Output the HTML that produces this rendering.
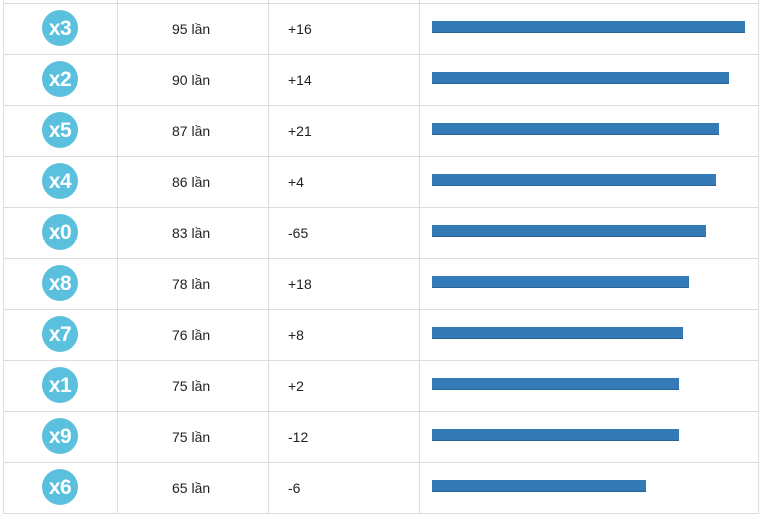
<!DOCTYPE html><html><head><meta charset="utf-8"><style>
body{margin:0;width:762px;height:519px;background:#fff;position:relative;overflow:hidden;font-family:"Liberation Sans",Arial,sans-serif;color:#222}
.h{position:absolute;left:3px;width:756px;height:1px;background:#ddd}
.v{position:absolute;top:0;width:1px;height:514px;background:#ddd}
.c{position:absolute;left:42px;width:36px;height:36px;border-radius:50%;background:#5bc0de;color:#fff;font-weight:bold;font-size:21px;line-height:38px;text-align:center;letter-spacing:-0.5px}
.t{position:absolute;font-size:14px;line-height:16px}
.b{position:absolute;left:432px;height:12px;background:#337ab7;border-bottom:1px solid #2a6496;box-sizing:border-box}
</style></head><body>
<div class="v" style="left:3px"></div><div class="v" style="left:117px"></div><div class="v" style="left:268px"></div><div class="v" style="left:419px"></div><div class="v" style="left:758px"></div>
<div id="rows"></div>
<script>
var d=[["x3","95",313,"+16"],["x2","90",297,"+14"],["x5","87",287,"+21"],["x4","86",284,"+4"],["x0","83",274,"-65"],["x8","78",257,"+18"],["x7","76",251,"+8"],["x1","75",247,"+2"],["x9","75",247,"-12"],["x6","65",214,"-6"]];
var h='<div class="h" style="top:3px"></div>';
d.forEach(function(r,i){var y=3+51*i;
h+='<div class="h" style="top:'+(y+51)+'px"></div>';
h+='<div class="c" style="top:'+(y+7)+'px">'+r[0]+'</div>';
h+='<div class="t" style="left:172px;top:'+(y+18)+'px">'+r[1]+' lần</div>';
h+='<div class="t" style="left:288px;top:'+(y+18)+'px">'+r[3]+'</div>';
h+='<div class="b" style="top:'+(y+18)+'px;width:'+r[2]+'px"></div>';});
document.getElementById('rows').innerHTML=h;
</script>
</body></html>
